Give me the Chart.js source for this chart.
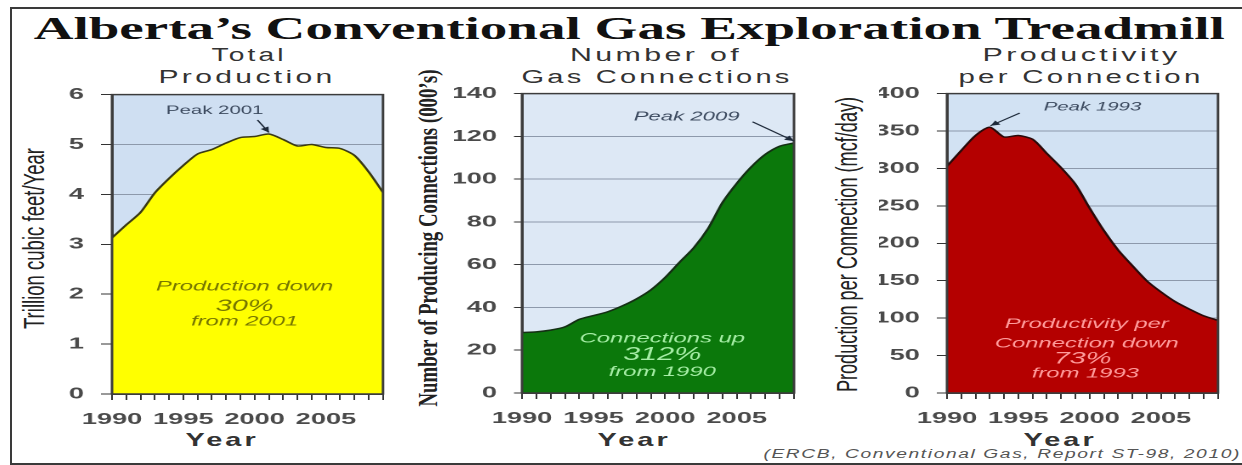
<!DOCTYPE html>
<html>
<head>
<meta charset="utf-8">
<title>Alberta's Conventional Gas Exploration Treadmill</title>
<script src="https://cdn.jsdelivr.net/npm/chart.js@4.4.1/dist/chart.umd.min.js"></script>
<style>
  html, body { margin: 0; padding: 0; background: #fff; }
  #page { position: relative; width: 1242px; height: 465px; overflow: hidden; }
  #frame { position: absolute; left: 10px; top: 7px; width: 1250px; height: 454px; border: 2px solid #3a3a3a; }
  .txt { position: absolute; white-space: nowrap; line-height: 1; transform-origin: 50% 50%; }
  .title { font: bold 31px "Liberation Serif", "Times New Roman", serif; color: #111; }
  .sub { font: 18px "Liberation Sans", Arial, sans-serif; color: #333; letter-spacing: 2px; }
  .year { font: bold 19px "Liberation Sans", Arial, sans-serif; color: #333; letter-spacing: 2px; }
  .src { font: italic 12px "Liberation Sans", Arial, sans-serif; color: #555; letter-spacing: 1px; }
  .ytitle { font: 29px "Liberation Sans Narrow", "Liberation Sans", Arial, sans-serif; color: #222; }
  .yserif { font: bold 28px "Liberation Serif", "Times New Roman", serif; color: #222; }
  .panel { position: absolute; transform-origin: 0 0; }
</style>
</head>
<body>
<div id="page"><div id="frame"></div></div>
<script>
// data
const years = [1990, 1991, 1992, 1993, 1994, 1995, 1996, 1997, 1998, 1999,
               2000, 2001, 2002, 2003, 2004, 2005, 2006, 2007, 2008, 2009];
const tickYears = [1990, 1995, 2000, 2005];
// trillion cubic feet / year
const production = [3.13, 3.39, 3.64, 4.03, 4.32, 4.58, 4.81, 4.90, 5.03, 5.14,
                    5.16, 5.21, 5.10, 4.97, 5.00, 4.94, 4.92, 4.78, 4.45, 4.04];
// producing connections (000's)
const connections = [28.3, 28.6, 29.4, 30.9, 34.4, 36.2, 38.0, 40.7, 44.0, 48.2,
                     54.0, 61.1, 67.9, 76.9, 89.0, 98.0, 105.6, 111.6, 115.4, 116.9];
// mcf/day per connection
const productivity = [303, 324, 344, 355, 342, 344, 339, 320, 301, 279,
                      247, 217, 191, 170, 150, 135, 122, 112, 103, 97];

const STRETCH = 1.7;   // the picture is stretched sideways
const page = document.getElementById('page');

function placeText(text, cls, cx, top, width) {
  let el = document.createElement('div');
  el.className = 'txt ' + cls;
  el.textContent = text;
  page.appendChild(el);
  let w = el.offsetWidth;
  el.style.left = (cx - w / 2) + 'px';
  el.style.top = top + 'px';
  el.style.transform = 'scaleX(' + (width / w) + ')';
}

function placeYTitle(text, cls, cx, cy, len) {
  let el = document.createElement('div');
  el.className = 'txt ' + cls;
  el.textContent = text;
  page.appendChild(el);
  let w = el.offsetWidth, h = el.offsetHeight;
  el.style.left = (cx - w / 2) + 'px';
  el.style.top = (cy - h / 2) + 'px';
  el.style.transform = 'rotate(-90deg) scaleX(' + (len / w) + ')';
}

// background, frame, arrows and notes inside the plot
const annotate = {
  id: 'annotate',
  beforeDraw(chart, args, opts) {
    let a = chart.chartArea, ctx = chart.ctx;
    ctx.save();
    ctx.fillStyle = opts.bg;
    ctx.fillRect(a.left, a.top, a.right - a.left, a.bottom - a.top);
    ctx.restore();
  },
  afterDatasetsDraw(chart, args, opts) {
    let a = chart.chartArea, ctx = chart.ctx;
    let xs = chart.scales.x, ys = chart.scales.y;
    let px = yr => xs.getPixelForValue(yr - years[0]);
    ctx.save();
    ctx.strokeStyle = '#3c3c3c';
    ctx.lineWidth = 1.5;
    ctx.strokeRect(a.left, a.top, a.right - a.left, a.bottom - a.top);

    // arrow to the peak
    let ar = opts.arrow;
    let x1 = px(ar.from[0]), y1 = ys.getPixelForValue(ar.from[1]);
    let x2 = px(ar.to[0]), y2 = ys.getPixelForValue(ar.to[1]);
    ctx.strokeStyle = '#1e2a3a';
    ctx.fillStyle = '#1e2a3a';
    ctx.lineWidth = 1;
    ctx.beginPath(); ctx.moveTo(x1, y1); ctx.lineTo(x2, y2); ctx.stroke();
    let ang = Math.atan2(y2 - y1, x2 - x1);
    ctx.beginPath();
    ctx.moveTo(x2, y2);
    ctx.lineTo(x2 - 6 * Math.cos(ang - 0.45), y2 - 6 * Math.sin(ang - 0.45));
    ctx.lineTo(x2 - 6 * Math.cos(ang + 0.45), y2 - 6 * Math.sin(ang + 0.45));
    ctx.closePath(); ctx.fill();

    ctx.textAlign = 'center';
    ctx.textBaseline = 'middle';
    opts.notes.forEach(n => {
      ctx.font = n.font;
      ctx.fillStyle = n.color;
      ctx.fillText(n.text, px(n.x), ys.getPixelForValue(n.y));
    });
    ctx.restore();
  }
};

function makePanel(o) {
  let yw = 40, xh = 34, padTop = 10, padRight = 2;
  let div = document.createElement('div');
  div.className = 'panel';
  div.style.left = (o.plotLeft - yw * STRETCH) + 'px';
  div.style.top = (o.plotTop - padTop) + 'px';
  div.style.width = (yw + (o.plotRight - o.plotLeft) / STRETCH + padRight) + 'px';
  div.style.height = (padTop + o.plotBottom - o.plotTop + xh) + 'px';
  div.style.transform = 'scaleX(' + STRETCH + ')';
  let canvas = document.createElement('canvas');
  div.appendChild(canvas);
  page.appendChild(div);

  return new Chart(canvas, {
    type: 'line',
    data: {
      labels: years.map(String),
      datasets: [{
        data: o.values,
        fill: 'origin',
        backgroundColor: o.fill,
        borderColor: o.line,
        borderWidth: 1.5,
        pointRadius: 0,
        tension: 0.25
      }]
    },
    options: {
      responsive: true,
      maintainAspectRatio: false,
      animation: false,
      devicePixelRatio: 2,
      layout: { padding: { top: padTop, right: padRight, left: 0, bottom: 0 } },
      plugins: {
        legend: { display: false },
        tooltip: { enabled: false },
        annotate: { bg: o.bg, arrow: o.arrow, notes: o.notes }
      },
      scales: {
        x: {
          offset: false,
          // keep the plot right edge where the panel says
          afterFit: s => { s.height = xh; s.paddingRight = 0; },
          grid: { drawOnChartArea: false, tickLength: 6, color: '#333', tickWidth: 1 },
          border: { display: true, color: '#3c3c3c', width: 1.5 },
          ticks: {
            autoSkip: false, maxRotation: 0, padding: 10,
            color: '#4a4a4a',
            font: { family: 'Liberation Sans', size: 16, weight: 'bold' },
            callback: (v, i) => tickYears.includes(years[i]) ? String(years[i]) : ''
          }
        },
        y: {
          min: 0, max: o.max,
          afterFit: s => { s.width = yw; },
          grid: { color: '#8d99ab', lineWidth: 1, tickLength: o.tickLen, tickColor: '#333' },
          border: { display: true, color: '#3c3c3c', width: 1.5 },
          ticks: {
            stepSize: o.step, padding: 10,
            color: '#4a4a4a',
            font: { family: 'Liberation Sans', size: 16, weight: 'bold' }
          }
        }
      }
    },
    plugins: [annotate]
  });
}

// page texts
placeText('Alberta\u2019s Conventional Gas Exploration Treadmill', 'title', 629, 11, 1192);
placeText('Total', 'sub', 249, 45, 75);
placeText('Production', 'sub', 247, 67, 177);
placeText('Number of', 'sub', 656, 45, 172);
placeText('Gas Connections', 'sub', 657, 67, 271);
placeText('Productivity', 'sub', 1081, 45, 198);
placeText('per Connection', 'sub', 1081, 67, 245);
placeText('Year', 'year', 221.5, 429, 73);
placeText('Year', 'year', 633.5, 429, 73);
placeText('Year', 'year', 1060, 429, 73);
placeText('(ERCB, Conventional Gas, Report ST-98, 2010)', 'src', 1002, 447, 477);
placeYTitle('Trillion cubic feet/Year', 'ytitle', 34, 238, 181);
placeYTitle('Number of Producing Connections (000\u2019s)', 'yserif', 428, 238, 337);
placeYTitle('Production per Connection (mcf/day)', 'ytitle', 847, 244, 295);

const noteBlue = '#3d4b60';

makePanel({
  plotLeft: 112, plotRight: 383, plotTop: 85, plotBottom: 394,
  values: production, max: 6, step: 1, tickLen: 6.5,
  fill: '#ffff00', line: '#3a3a14', bg: '#cfdff2',
  arrow: { from: [2000.2, 5.49], to: [2001, 5.24] },
  notes: [
    { text: 'Peak 2001', x: 1997.2, y: 5.68, font: '12px "Liberation Sans"', color: noteBlue },
    { text: 'Production down', x: 1999.3, y: 2.15, font: 'italic 14px "Liberation Sans"', color: '#767600' },
    { text: '30%', x: 1999.3, y: 1.76, font: 'italic 17px "Liberation Sans"', color: '#767600' },
    { text: 'from 2001', x: 1999.3, y: 1.45, font: 'italic 14px "Liberation Sans"', color: '#767600' }
  ]
});

makePanel({
  plotLeft: 522, plotRight: 794, plotTop: 84, plotBottom: 393,
  values: connections, max: 140, step: 20, tickLen: 4.7,
  fill: '#0b780b', line: '#143014', bg: '#dde8f5',
  arrow: { from: [2006.1, 126.8], to: [2009, 117.8] },
  notes: [
    { text: 'Peak 2009', x: 2001.5, y: 129, font: 'italic 13px "Liberation Sans"', color: noteBlue },
    { text: 'Connections up', x: 1999.8, y: 25.5, font: 'italic 14px "Liberation Sans"', color: '#a6eea6' },
    { text: '312%', x: 1999.8, y: 17.8, font: 'italic 18px "Liberation Sans"', color: '#a6eea6' },
    { text: 'from 1990', x: 1999.8, y: 9.7, font: 'italic 14px "Liberation Sans"', color: '#a6eea6' }
  ]
});

makePanel({
  plotLeft: 947, plotRight: 1218, plotTop: 84, plotBottom: 393,
  values: productivity, max: 400, step: 50, tickLen: 6,
  fill: '#b40000', line: '#2a0a0a', bg: '#d2e2f3',
  arrow: { from: [1995.1, 374], to: [1993.05, 357] },
  notes: [
    { text: 'Peak 1993', x: 2000.2, y: 382, font: 'italic 12px "Liberation Sans"', color: noteBlue },
    { text: 'Productivity per', x: 1999.8, y: 92, font: 'italic 14px "Liberation Sans"', color: '#ff9c9c' },
    { text: 'Connection down', x: 1999.8, y: 66, font: 'italic 14px "Liberation Sans"', color: '#ff9c9c' },
    { text: '73%', x: 1999.5, y: 45.5, font: 'italic 17px "Liberation Sans"', color: '#ff9c9c' },
    { text: 'from 1993', x: 1999.7, y: 26, font: 'italic 14px "Liberation Sans"', color: '#ff9c9c' }
  ]
});
</script>
</body>
</html>
